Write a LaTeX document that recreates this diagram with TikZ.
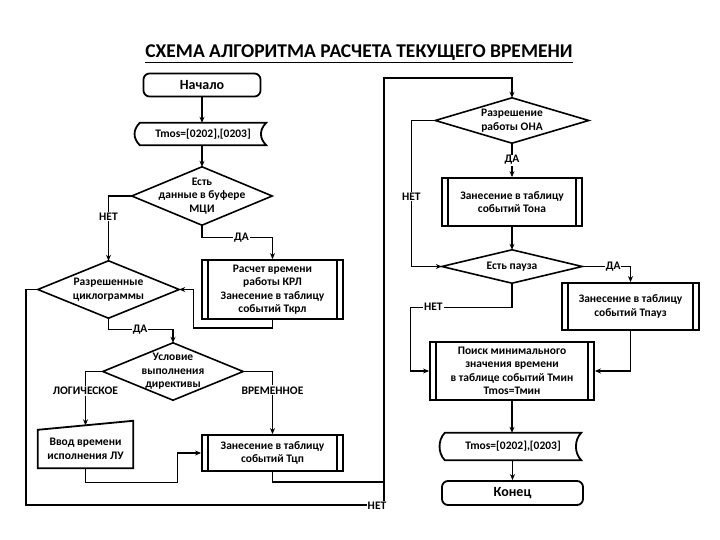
\documentclass[tikz,border=0pt]{standalone}
\usepackage{fontspec}
\setmainfont{Carlito}
\usetikzlibrary{arrows.meta,calc}
\begin{document}
\begin{tikzpicture}[x=1pt,y=-1pt,
  base/.style={font=\bfseries\fontsize{11.5}{13.5}\selectfont, align=center, inner sep=1pt},
  boxline/.style={line width=1.8pt},
  term/.style={base, draw, boxline, rounded corners=6pt, font=\bfseries\fontsize{14}{16}\selectfont},
  proc/.style={base, draw, boxline},
  dec/.style={base, inner sep=0pt},
  store/.style={base, inner sep=0pt},
  lbl/.style={font=\bfseries\fontsize{11.5}{13}\selectfont, fill=white, inner sep=1pt},
  ln/.style={line width=1.2pt},
  arr/.style={ln, -{Stealth[length=6pt,width=5pt]}},
  bigline/.style={line width=1.8pt}
]
\fill[white] (0,0) rectangle (720,540);
\useasboundingbox (0,0) rectangle (720,540);

\node[font=\bfseries\fontsize{19.5}{22}\selectfont] (title) at (359,54) {\underline{СХЕМА АЛГОРИТМА РАСЧЕТА ТЕКУЩЕГО ВРЕМЕНИ}};

% left column
\node[term, minimum width=117pt, minimum height=23pt] (start) at (202,85) {Начало};
\node[store, minimum width=126pt, minimum height=22pt] (tm1) at (203,134) {Tmos=[0202],[0203]};
\node[dec, minimum width=140pt, minimum height=58pt] (d1) at (202,196) {Есть\\данные в буфере\\МЦИ};
\node[proc, minimum width=141pt, minimum height=59pt] (krl) at (272.5,289.5) {Расчет времени\\работы КРЛ\\Занесение в таблицу\\событий Ткрл};
\node[dec, minimum width=141pt, minimum height=57pt] (d2) at (108.5,289.5) {Разрешенные\\циклограммы};
\node[dec, minimum width=140pt, minimum height=57pt] (d3) at (173,371.5) {Условие\\выполнения\\директивы};
\node[base, minimum width=95pt, minimum height=38pt] (man) at (85.5,449) {Ввод времени\\исполнения ЛУ};
\node[proc, minimum width=141pt, minimum height=36pt] (tcp) at (272.5,453) {Занесение в таблицу\\событий Тцп};

% right column
\node[dec, minimum width=153pt, minimum height=45pt] (d4) at (512,120.5) {Разрешение\\работы ОНА};
\node[proc, minimum width=140pt, minimum height=48pt] (tona) at (512,202) {Занесение в таблицу\\событий Тона};
\node[dec, minimum width=140pt, minimum height=33pt] (d5) at (512,266.5) {Есть пауза};
\node[proc, minimum width=137pt, minimum height=47pt] (tpauz) at (630.5,306.5) {Занесение в таблицу\\событий Тпауз};
\node[proc, minimum width=164pt, minimum height=58pt] (poisk) at (512,371) {Поиск минимального\\значения времени\\в таблице событий Тмин\\Tmos=Тмин};
\node[store, minimum width=136pt, minimum height=27pt] (tm2) at (513,446.5) {Tmos=[0202],[0203]};
\node[term, minimum width=141pt, minimum height=24pt] (end) at (512.5,493) {Конец};

% shapes
\foreach \n in {d1,d2,d3,d4,d5}
  \draw[line width=1.6pt] (\n.north) -- (\n.east) -- (\n.south) -- (\n.west) -- cycle;
\foreach \n in {krl,tcp,tona,tpauz,poisk}
  \draw[line width=1.5pt] ([xshift=7pt]\n.north west) -- ([xshift=7pt]\n.south west)
                          ([xshift=-7pt]\n.north east) -- ([xshift=-7pt]\n.south east);
\foreach \n in {tm1,tm2}
  \draw[boxline] (\n.north west) -- (\n.north east) .. controls +(-7,7) and +(-7,-7) .. (\n.south east)
     -- (\n.south west) .. controls +(-7,-7) and +(-7,7) .. (\n.north west) -- cycle;
\draw[boxline] (man.south west) -- (man.north west) -- ([yshift=9pt]man.north east) -- (man.south east) -- cycle;
\coordinate (mtop) at ($(man.north west)!0.5!([yshift=9pt]man.north east)$);

% connectors left
\draw[arr] (start.south) -- (start.south |- tm1.north);
\draw[arr] (tm1.south -| d1.north) -- (d1.north);
\draw[arr] (d1.west) -| node[lbl, pos=0.66]{НЕТ} (d2.north);
\draw[arr] (d1.south) -- ++(0,12) -| node[lbl, pos=0.28]{ДА} (krl.north);
\draw[arr] (krl.south) -- ++(0,8) -| ($(d2.east)+(14,0)$) -- (d2.east);
\draw[arr] (d2.south) -- ++(0,11) -| node[lbl, pos=0.245]{ДА} (d3.north);
\draw[arr] (d3.west) -| node[lbl, pos=0.68]{ЛОГИЧЕСКОЕ} (mtop);
\draw[arr] (d3.east) -| node[lbl, pos=0.65]{ВРЕМЕННОЕ} (tcp.north);
\draw[arr] (man.south) -- ++(0,14) -| ($(tcp.west)+(-24,0)$) -- (tcp.west);

% big loop
\coordinate (loopcorner) at (384,505);
\coordinate (looptop) at (384,78);
\coordinate (join) at (384,482);
\draw[ln] (tcp.south) |- (join);
\draw[bigline, -{Stealth[length=6pt,width=5pt]}] (d2.west) -- ++(-11.5,0) |- (loopcorner) -- (looptop) -| (d4.north);
\node[lbl] (netloop) at (377,506) {НЕТ};

% connectors right
\draw[arr] (d4.south) -- node[lbl]{ДА} (tona.north);
\draw[arr] (d4.west) -- ++(-24,0) |- node[lbl, pos=0.26]{НЕТ} (d5.west);
\draw[arr] (tona.south) -- (d5.north);
\draw[arr] (d5.east) -| node[lbl, pos=0.32]{ДА} (tpauz.north);
\draw[arr] (tpauz.south) |- (poisk.east);
\draw[arr] (d5.south) -- ++(0,24) -| node[lbl, pos=0.386]{НЕТ} ($(poisk.west)+(-19,0)$) -- (poisk.west);
\draw[arr] (poisk.south) -- (poisk.south |- tm2.north);
\draw[arr] (tm2.south -| end.north) -- (end.north);
\end{tikzpicture}
\end{document}
